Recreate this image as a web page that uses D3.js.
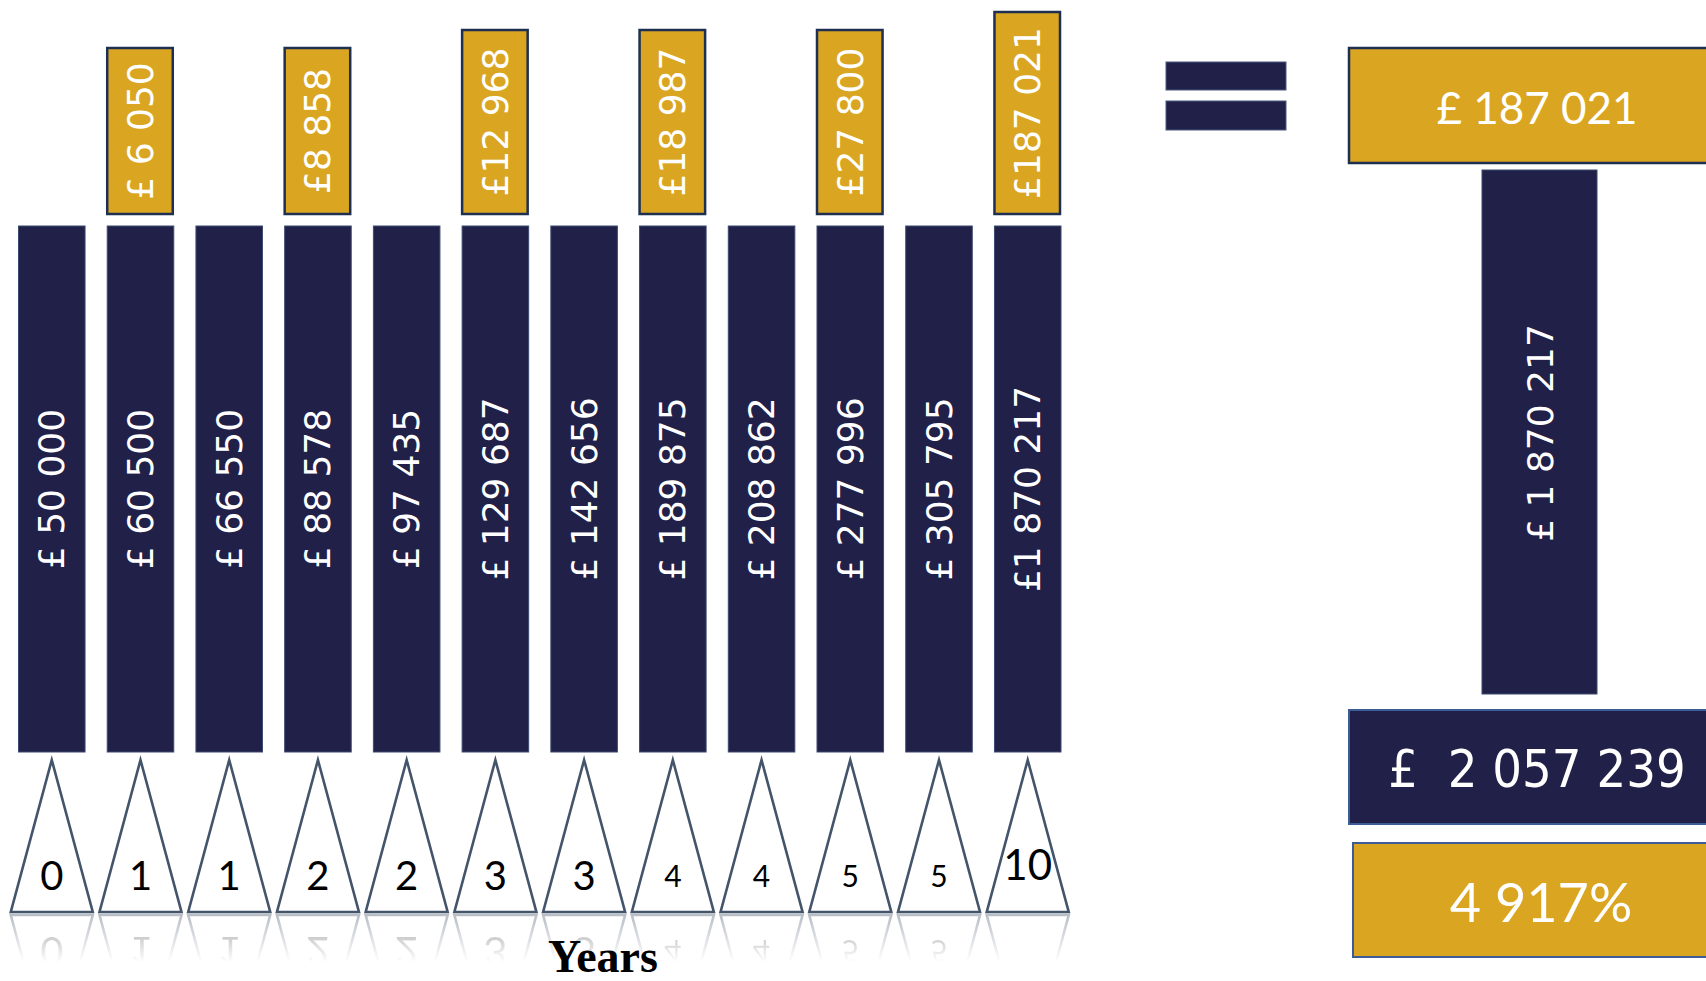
<!DOCTYPE html>
<html><head><meta charset="utf-8">
<script src="https://cdn.jsdelivr.net/npm/d3@7"></script>
<style>html,body{margin:0;padding:0;background:#fff;overflow:hidden}</style>
</head><body>
<svg id="chart" width="1706" height="981"></svg>
<script>
// ---- data ----
const years = [0, 1, 1, 2, 2, 3, 3, 4, 4, 5, 5, 10];
const balances = [50000, 60500, 66550, 88578, 97435, 129687, 142656, 189875, 208862, 277996, 305795, 1870217];
const balanceLabels = ["£ 50 000", "£ 60 500", "£ 66 550", "£ 88 578", "£ 97 435", "£ 129 687", "£ 142 656", "£ 189 875", "£ 208 862", "£ 277 996", "£ 305 795", "£1 870 217"];
const gains = [null, 6050, null, 8858, null, 12968, null, 18987, null, 27800, null, 187021];
const gainLabels = [null, "£ 6 050", null, "£8 858", null, "£12 968", null, "£18 987", null, "£27 800", null, "£187 021"];
const summaryGain = "£ 187 021";
const summaryBalance = "£ 1 870 217";
const summaryTotal = "£  2 057 239";
const summaryPct = "4 917%";
const axisTitle = "Years";

// ---- style ----
const NAVY = "#212049", GOLD = "#daa621", TRI = "#44546a";
const svg = d3.select("#chart");

const idx = d3.range(years.length);
const x = d3.scaleBand().domain(idx).range([18.5, 1061]).paddingInner(0.25).paddingOuter(0);
// vertical layout scale: 0 = bar bottom, 1 = bar top
const y = d3.scaleLinear().domain([0, 1]).range([752, 226]);

// defs: reflection fade
const defs = svg.append("defs");
const grad = defs.append("linearGradient").attr("id", "fade")
  .attr("gradientUnits", "userSpaceOnUse").attr("x1", 0).attr("x2", 0).attr("y1", 912).attr("y2", 962);
grad.append("stop").attr("offset", 0).attr("stop-color", "#fff").attr("stop-opacity", 0.4);
grad.append("stop").attr("offset", 1).attr("stop-color", "#fff").attr("stop-opacity", 0);
defs.append("mask").attr("id", "reflMask").attr("maskUnits", "userSpaceOnUse")
  .attr("x", 0).attr("y", 0).attr("width", 1706).attr("height", 981)
  .append("rect").attr("x", 0).attr("y", 912).attr("width", 1706).attr("height", 52).attr("fill", "url(#fade)");

// navy bars
svg.append("g").selectAll("rect").data(idx).join("rect")
  .attr("x", i => x(i)).attr("width", x.bandwidth())
  .attr("y", y(1)).attr("height", y(0) - y(1))
  .attr("fill", NAVY).attr("stroke", "#3d4a72").attr("stroke-width", 1);

svg.append("g").selectAll("text").data(idx).join("text")
  .attr("transform", i => `translate(${x(i) + x.bandwidth() / 2},${(y(0) + y(1)) / 2}) rotate(-90)`)
  .attr("text-anchor", "middle").attr("dominant-baseline", "central")
  .attr("font-family", "DejaVu Sans").attr("font-size", 36).attr("fill", "#fff")
  .text(i => balanceLabels[i]);

// gold gain boxes (height grows with number of digits)
const gIdx = idx.filter(i => gains[i] !== null);
const gainBottom = 214;
const boxH = i => 166 + 18 * (String(gains[i]).length - 4);
const gg = svg.append("g").selectAll("g").data(gIdx).join("g");
gg.append("rect")
  .attr("x", i => x(i)).attr("width", x.bandwidth() - 1)
  .attr("y", i => gainBottom - boxH(i)).attr("height", i => boxH(i))
  .attr("fill", GOLD).attr("stroke", "#1e2f52").attr("stroke-width", 2.5);
gg.append("text")
  .attr("transform", i => `translate(${x(i) + x.bandwidth() / 2},${gainBottom - boxH(i) / 2}) rotate(-90)`)
  .attr("text-anchor", "middle").attr("dominant-baseline", "central")
  .attr("font-family", "DejaVu Sans").attr("font-size", 36).attr("fill", "#fff")
  .text(i => gainLabels[i]);

// triangles
const triTop = 760, triBase = 912, triHalf = 41;
const triPath = i => {
  const cx = x(i) + x.bandwidth() / 2;
  return `M${cx},${triTop} L${cx + triHalf},${triBase} L${cx - triHalf},${triBase} Z`;
};
const yearSize = v => v === 4 || v === 5 ? 30 : (v === 10 ? 42 : 40);
const yearBase = v => v === 4 || v === 5 ? 887 : (v === 10 ? 880 : 890);

function drawTriangles(g, reflected) {
  g.selectAll("path").data(idx).join("path")
    .attr("d", triPath).attr("fill", "#fff").attr("stroke", TRI).attr("stroke-width", 2.6);
  // the reflected "10" sits below the fade and is not visible in the reference
  const tIdx = reflected ? idx.filter(i => years[i] !== 10) : idx;
  g.selectAll("text").data(tIdx).join("text")
    .attr("x", i => x(i) + x.bandwidth() / 2).attr("y", i => yearBase(years[i]))
    .attr("text-anchor", "middle").attr("font-family", "Lato").attr("font-size", i => yearSize(years[i]))
    .attr("fill", "#000").text(i => years[i]);
}
// reflection
const refl = svg.append("g").attr("mask", "url(#reflMask)")
  .append("g").attr("transform", `translate(0,${2 * triBase + 3}) scale(1,-1)`);
drawTriangles(refl, true);
drawTriangles(svg.append("g"), false);

// axis title
svg.append("text").attr("x", 603).attr("y", 972).attr("text-anchor", "middle")
  .attr("font-family", "Liberation Serif").attr("font-weight", "bold").attr("font-size", 46)
  .attr("fill", "#000").text(axisTitle);

// equals sign
const eq = svg.append("g");
[[62, 90], [101, 130]].forEach(([a, b]) => {
  eq.append("rect").attr("x", 1166).attr("y", a).attr("width", 120).attr("height", b - a)
    .attr("fill", NAVY).attr("stroke", "#4a5a80").attr("stroke-width", 1);
});

// summary panel
const sp = svg.append("g");
sp.append("rect").attr("x", 1349).attr("y", 48).attr("width", 400).attr("height", 115)
  .attr("fill", GOLD).attr("stroke", "#1e2f52").attr("stroke-width", 2.5);
sp.append("text").attr("x", 1537).attr("y", 107).attr("text-anchor", "middle").attr("dominant-baseline", "central")
  .attr("font-family", "Lato").attr("font-size", 44).attr("fill", "#fff").text(summaryGain);

sp.append("rect").attr("x", 1482).attr("y", 170).attr("width", 115).attr("height", 524)
  .attr("fill", NAVY).attr("stroke", "#3d4a72").attr("stroke-width", 1);
sp.append("text").attr("transform", "translate(1540,433) rotate(-90)")
  .attr("text-anchor", "middle").attr("dominant-baseline", "central")
  .attr("font-family", "DejaVu Sans").attr("font-size", 36).attr("fill", "#fff").text(summaryBalance);

sp.append("rect").attr("x", 1349).attr("y", 710).attr("width", 400).attr("height", 114)
  .attr("fill", NAVY).attr("stroke", "#3b5c96").attr("stroke-width", 2);
sp.append("text").attr("x", 1537).attr("y", 769).attr("text-anchor", "middle").attr("dominant-baseline", "central")
  .attr("font-family", "DejaVu Sans Condensed").attr("font-size", 52).attr("fill", "#fff")
  .attr("xml:space", "preserve").style("white-space", "pre").text(summaryTotal);

sp.append("rect").attr("x", 1353).attr("y", 843).attr("width", 400).attr("height", 114)
  .attr("fill", GOLD).attr("stroke", "#3b5c96").attr("stroke-width", 2);
sp.append("text").attr("x", 1541).attr("y", 901).attr("text-anchor", "middle").attr("dominant-baseline", "central")
  .attr("font-family", "Lato").attr("font-size", 54).attr("fill", "#fff").text(summaryPct);
</script>
</body></html>
